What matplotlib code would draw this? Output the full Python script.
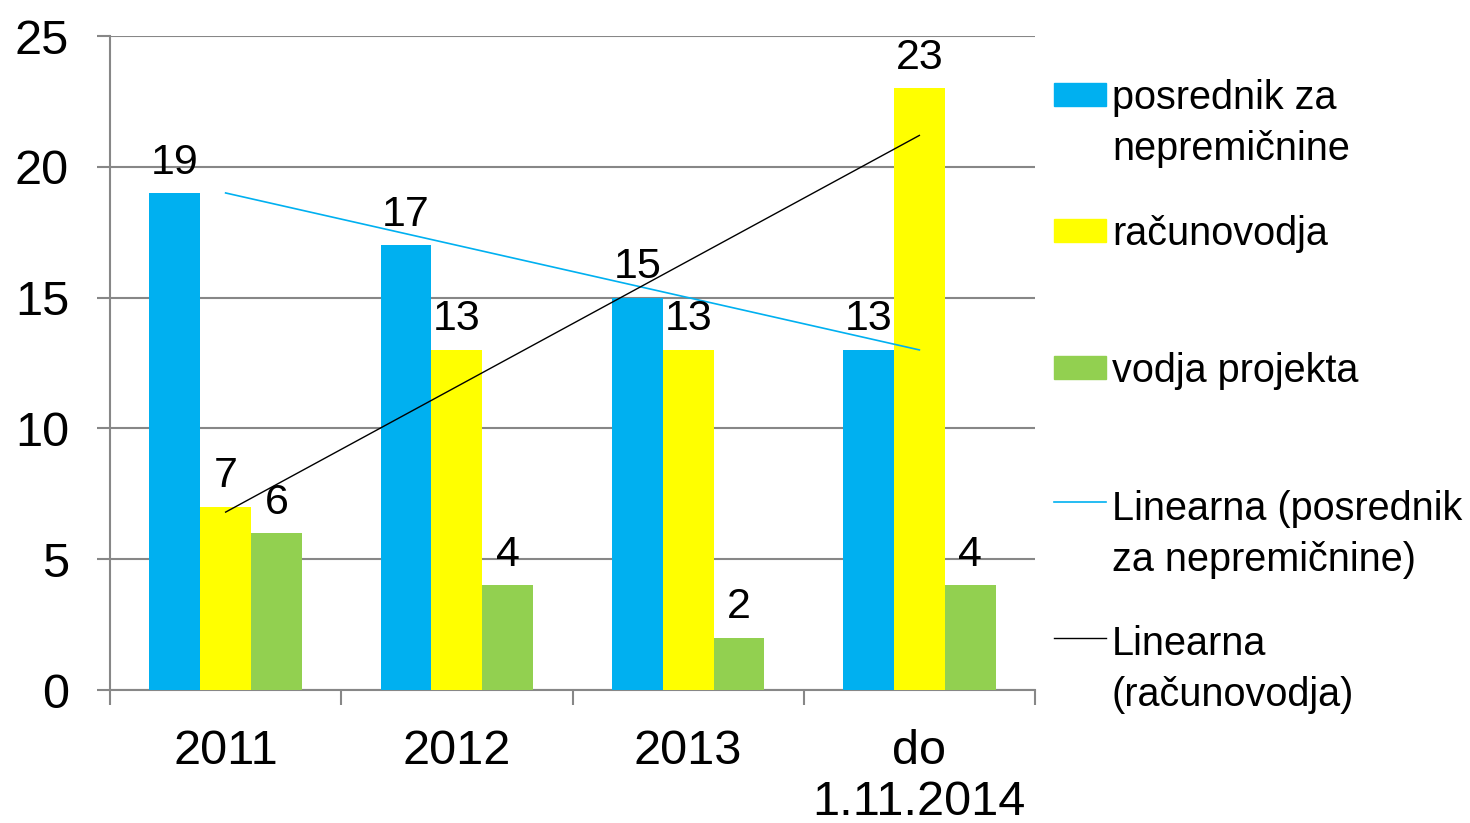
import matplotlib
matplotlib.use('Agg')
import matplotlib.pyplot as plt
from matplotlib.lines import Line2D
from matplotlib.patches import Rectangle
import numpy as np

plt.rcParams['font.family'] = ['Liberation Sans', 'DejaVu Sans']

# data
categories = ['2011', '2012', '2013', 'do\n1.11.2014']
posrednik = [19, 17, 15, 13]
racunovodja = [7, 13, 13, 23]
vodja = [6, 4, 2, 4]
series_names = [['posrednik za', 'nepremičnine'], ['računovodja'], ['vodja projekta'],
                ['Linearna (posrednik', 'za nepremičnine)'], ['Linearna', '(računovodja)']]

c_blue = '#00B0F0'
c_yellow = '#FFFF00'
c_green = '#92D050'
c_grid = '#878787'

W, H = 1470, 823
fig = plt.figure(figsize=(W / 100, H / 100), dpi=100)
ax = fig.add_axes([110 / W, 1 - 690 / H, (1035 - 110) / W, (690 - 36) / H])

x = np.arange(len(categories))
bw = 0.22
for off, vals, col in [(-bw, posrednik, c_blue), (0, racunovodja, c_yellow), (bw, vodja, c_green)]:
    ax.bar(x + off, vals, bw, color=col, zorder=3)
    for xi, v in zip(x + off, vals):
        ax.annotate(str(v), (xi, v), xytext=(0, 14), textcoords='offset points',
                    ha='center', va='baseline', fontsize=31, zorder=5)

# linear trend lines
for vals, col, lw in [(posrednik, c_blue, 1.2), (racunovodja, 'black', 1.0)]:
    k, n = np.polyfit(x, vals, 1)
    ax.plot(x, k * x + n, color=col, lw=lw, zorder=4)

ax.set_xlim(-0.5, 3.5)
ax.set_ylim(0, 25)
ax.set_yticks(range(0, 26, 5))
ax.yaxis.grid(True, color=c_grid, lw=1.5, zorder=0)
ax.set_axisbelow(True)
for s in ['top', 'right']:
    ax.spines[s].set_visible(False)
for s in ['left', 'bottom']:
    ax.spines[s].set_color(c_grid)
    ax.spines[s].set_linewidth(1.5)
ax.tick_params(axis='y', length=9.5, width=1.5, color=c_grid, pad=20, labelsize=35)
ax.set_xticks(np.arange(-0.5, 4, 1))
ax.set_xticklabels([])
ax.tick_params(axis='x', which='major', length=11, width=1.5, color=c_grid)
ax.set_xticks(x, minor=True)
ax.set_xticklabels(categories, minor=True, fontsize=35, linespacing=1.17)
ax.tick_params(axis='x', which='minor', length=0, pad=28)

# legend drawn by hand, Excel style
tx = 1112 / W
fig.add_artist(Rectangle((1054 / W, 1 - 106 / H), 52 / W, 23 / H, color=c_blue, transform=fig.transFigure))
fig.add_artist(Rectangle((1054 / W, 1 - 242 / H), 52 / W, 23 / H, color=c_yellow, transform=fig.transFigure))
fig.add_artist(Rectangle((1054 / W, 1 - 379 / H), 52 / W, 23 / H, color=c_green, transform=fig.transFigure))
fig.add_artist(Line2D([1054 / W, 1106 / W], [1 - 502 / H] * 2, color=c_blue, lw=1.2, transform=fig.transFigure))
fig.add_artist(Line2D([1054 / W, 1106 / W], [1 - 638 / H] * 2, color='black', lw=1.0, transform=fig.transFigure))
baselines = [109, 245, 382, 520, 655]
for lines, b in zip(series_names, baselines):
    for i, line in enumerate(lines):
        fig.text(tx, 1 - (b + 51 * i) / H, line, fontsize=28.5, va='baseline', ha='left')

fig.savefig('out.png', dpi=100)
